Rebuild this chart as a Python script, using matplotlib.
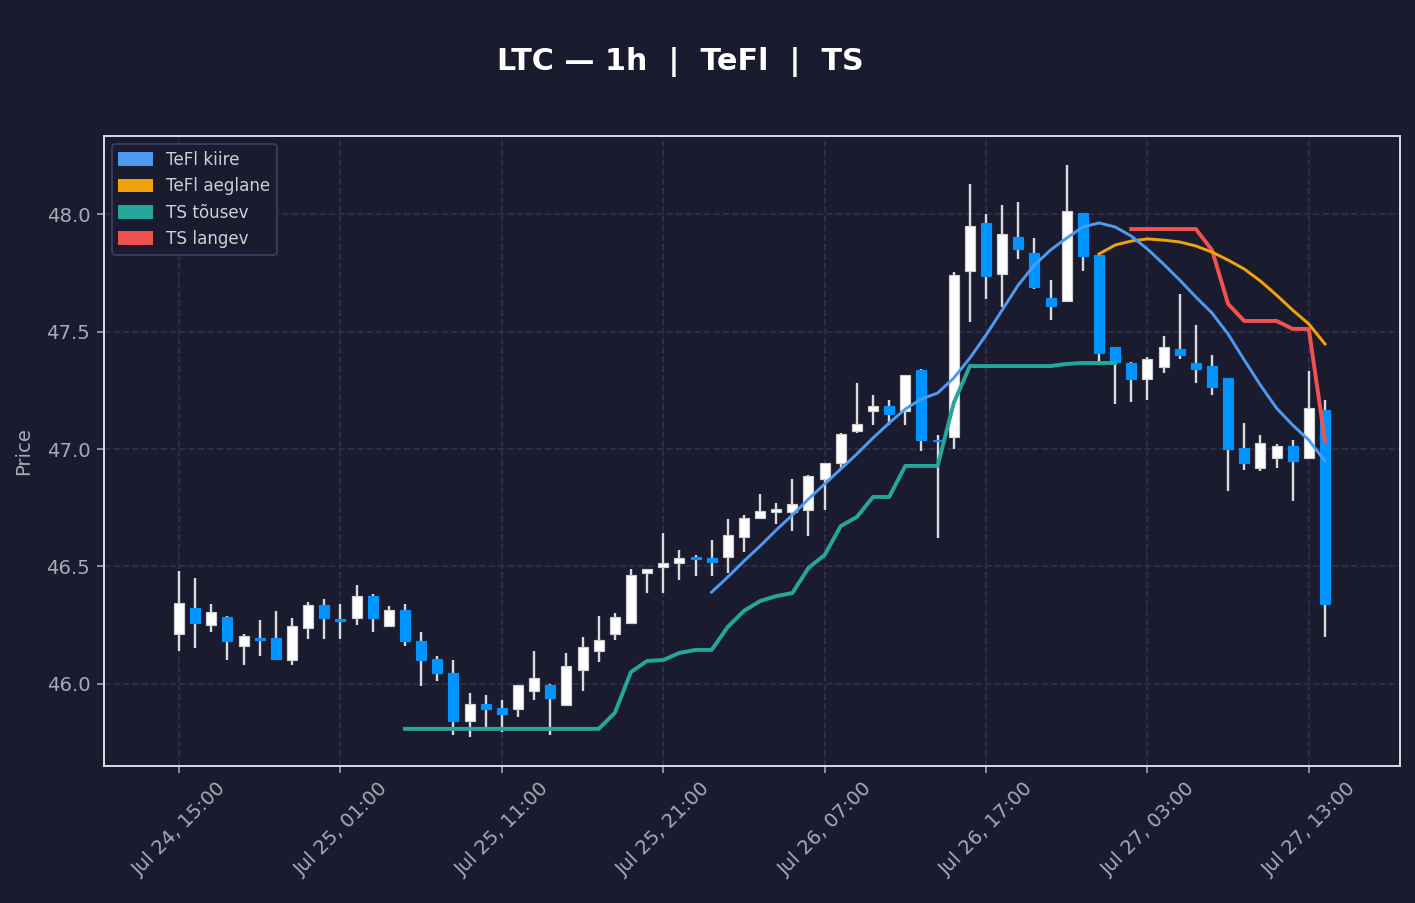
import numpy as np
import pandas as pd
import matplotlib
matplotlib.use("Agg")
import matplotlib.pyplot as plt
import matplotlib.dates as mdates
from matplotlib.patches import Patch

# hourly LTC candles, Jul 24 15:00 -> Jul 27 14:00
start = "2024-07-24 15:00"
opens = [46.213, 46.323, 46.251, 46.285, 46.162, 46.19, 46.196, 46.102, 46.238, 46.336,
         46.275, 46.281, 46.374, 46.247, 46.315, 46.183, 46.106, 46.047, 45.843, 45.915,
         45.898, 45.894, 45.97, 45.996, 45.911, 46.06, 46.14, 46.213, 46.26, 46.472,
         46.498, 46.515, 46.534, 46.536, 46.54, 46.626, 46.706, 46.732, 46.732, 46.74,
         46.872, 46.94, 47.077, 47.162, 47.183, 47.162, 47.336, 47.036, 47.051, 47.757,
         47.962, 47.745, 47.902, 47.834, 47.643, 47.63, 48.004, 47.826, 47.434, 47.366,
         47.298, 47.349, 47.426, 47.366, 47.353, 47.302, 47.004, 46.919, 46.962, 47.013,
         46.962, 47.166]
closes = [46.345, 46.26, 46.306, 46.183, 46.204, 46.188, 46.106, 46.247, 46.336, 46.281,
          46.27, 46.374, 46.281, 46.315, 46.183, 46.102, 46.047, 45.843, 45.915, 45.894,
          45.872, 45.996, 46.026, 45.94, 46.077, 46.157, 46.187, 46.285, 46.464, 46.489,
          46.515, 46.536, 46.532, 46.519, 46.634, 46.706, 46.736, 46.745, 46.766, 46.885,
          46.94, 47.064, 47.106, 47.183, 47.149, 47.315, 47.038, 47.032, 47.74, 47.949,
          47.736, 47.915, 47.851, 47.689, 47.609, 48.013, 47.821, 47.409, 47.37, 47.298,
          47.383, 47.434, 47.4, 47.34, 47.264, 47.0, 46.94, 47.026, 47.013, 46.949,
          47.174, 46.34]
highs = [46.481, 46.451, 46.34, 46.29, 46.213, 46.272, 46.311, 46.281, 46.349, 46.362,
         46.34, 46.421, 46.383, 46.332, 46.34, 46.221, 46.119, 46.102, 45.962, 45.953,
         45.932, 45.996, 46.14, 46.0, 46.132, 46.2, 46.289, 46.302, 46.489, 46.489,
         46.643, 46.57, 46.549, 46.613, 46.702, 46.719, 46.809, 46.77, 46.872, 46.89,
         46.94, 47.068, 47.281, 47.23, 47.209, 47.315, 47.34, 47.06, 47.753, 48.128,
         48.0, 48.038, 48.051, 47.898, 47.719, 48.209, 48.004, 47.826, 47.434, 47.37,
         47.391, 47.481, 47.66, 47.528, 47.4, 47.302, 47.111, 47.06, 47.021, 47.038,
         47.332, 47.209]
lows = [46.14, 46.153, 46.221, 46.102, 46.081, 46.119, 46.102, 46.081, 46.191, 46.191,
        46.191, 46.251, 46.221, 46.243, 46.162, 45.991, 46.013, 45.783, 45.774, 45.81,
        45.794, 45.86, 45.932, 45.783, 45.91, 45.97, 46.094, 46.187, 46.255, 46.387,
        46.387, 46.443, 46.46, 46.46, 46.472, 46.562, 46.702, 46.681, 46.651, 46.63,
        46.74, 46.919, 47.068, 47.102, 47.102, 47.102, 46.991, 46.621, 47.0, 47.54,
        47.638, 47.604, 47.809, 47.681, 47.549, 47.63, 47.757, 47.366, 47.191, 47.2,
        47.209, 47.323, 47.383, 47.281, 47.23, 46.821, 46.911, 46.906, 46.919, 46.779,
        46.962, 46.2]

# indicator lines, each starts at a given candle index
tefl_fast_start = 33
tefl_fast = [46.391, 46.455, 46.523, 46.587, 46.655, 46.719, 46.787, 46.851, 46.915, 46.979,
             47.047, 47.111, 47.170, 47.213, 47.238, 47.302, 47.387, 47.485, 47.591, 47.698,
             47.783, 47.847, 47.898, 47.945, 47.962, 47.945, 47.906, 47.851, 47.787, 47.719,
             47.647, 47.579, 47.489, 47.379, 47.272, 47.174, 47.102, 47.038, 46.949]
tefl_slow_start = 57
tefl_slow = [47.83, 47.868, 47.885, 47.894, 47.889, 47.881, 47.864, 47.838, 47.804, 47.766,
             47.715, 47.655, 47.591, 47.532, 47.447]
ts_up_start = 14
ts_up = [45.809] * 13 + [45.877, 46.051, 46.098, 46.102, 46.132, 46.145, 46.145, 46.243,
                         46.311, 46.353, 46.374, 46.387, 46.494, 46.549, 46.672, 46.711,
                         46.796, 46.796, 46.928, 46.928, 46.928, 47.196, 47.353, 47.353,
                         47.353, 47.353, 47.353, 47.353, 47.362, 47.366, 47.366, 47.366]
ts_down_start = 59
ts_down = [47.936, 47.936, 47.936, 47.936, 47.936, 47.847, 47.617, 47.545, 47.545, 47.545,
           47.511, 47.511, 47.034]

BG = "#1a1b2e"
UP = "#ffffff"
DOWN = "#0094ff"
WICK = "#d9d9de"
C_FAST = "#4c9bf0"
C_SLOW = "#f0a30a"
C_UP = "#26a69a"
C_DOWN = "#ef5350"

times = pd.date_range(start, periods=len(opens), freq="h")
x = mdates.date2num(times)
hour = 1 / 24

fig = plt.figure(figsize=(1415 / 141.5, 903 / 141.5), dpi=141.5, facecolor=BG)
ax = fig.add_axes([104 / 1415, 1 - 766 / 903, 1296 / 1415, 630 / 903])
ax.set_facecolor(BG)

o = np.array(opens)
c = np.array(closes)
up = c >= o
ax.vlines(x, lows, highs, color=WICK, linewidth=1.2, zorder=2)
body = np.maximum(np.abs(c - o), 0.007)
bottom = np.minimum(o, c)
ax.bar(x[up], body[up], bottom=bottom[up], width=0.62 * hour, color=UP,
       edgecolor="#d0d0d0", linewidth=0.6, zorder=3)
ax.bar(x[~up], body[~up], bottom=bottom[~up], width=0.62 * hour, color=DOWN,
       edgecolor=DOWN, linewidth=0.6, zorder=3)

def seg(start_idx, vals):
    return x[start_idx:start_idx + len(vals)], vals

ax.plot(*seg(ts_up_start, ts_up), color=C_UP, lw=2.0, zorder=4)
ax.plot(*seg(ts_down_start, ts_down), color=C_DOWN, lw=2.0, zorder=4)
ax.plot(*seg(tefl_slow_start, tefl_slow), color=C_SLOW, lw=1.5, zorder=5)
ax.plot(*seg(tefl_fast_start, tefl_fast), color=C_FAST, lw=1.5, zorder=5)

ax.set_ylim(45.651, 48.332)
ax.set_xlim(x[0] - 4.65 * hour, x[0] + 75.65 * hour)
ax.set_yticks([46.0, 46.5, 47.0, 47.5, 48.0])
ticks = x[0] + np.arange(0, 80, 10) * hour
ticks = ticks[ticks <= x[0] + 75 * hour]
ax.set_xticks(ticks)
ax.xaxis.set_major_formatter(mdates.DateFormatter("%b %d, %H:%M"))
plt.setp(ax.get_xticklabels(), rotation=45, ha="center")

ax.grid(True, color="#2e2f4d", linestyle="--", linewidth=0.9)
ax.set_axisbelow(True)
for s in ax.spines.values():
    s.set_color("#d8d8e0")
    s.set_linewidth(1.0)
ax.tick_params(colors="#a9a9b8", labelsize=10)
ax.set_ylabel("Price", color="#a9a9b8", fontsize=10, labelpad=7)

fig.text(680 / 1415, 1 - 62 / 903, "LTC — 1h  |  TeFl  |  TS", color="white",
         fontsize=15.3, fontweight="bold", ha="center", va="center")

handles = [Patch(color=C_FAST, label="TeFl kiire"),
           Patch(color=C_SLOW, label="TeFl aeglane"),
           Patch(color=C_UP, label="TS tõusev"),
           Patch(color=C_DOWN, label="TS langev")]
leg = ax.legend(handles=handles, loc="upper left", fontsize=8.5, facecolor=BG,
                edgecolor="#3a3b5c", labelcolor="#cfcfd8", framealpha=1)

fig.savefig("out.png", dpi=141.5, facecolor=BG)
